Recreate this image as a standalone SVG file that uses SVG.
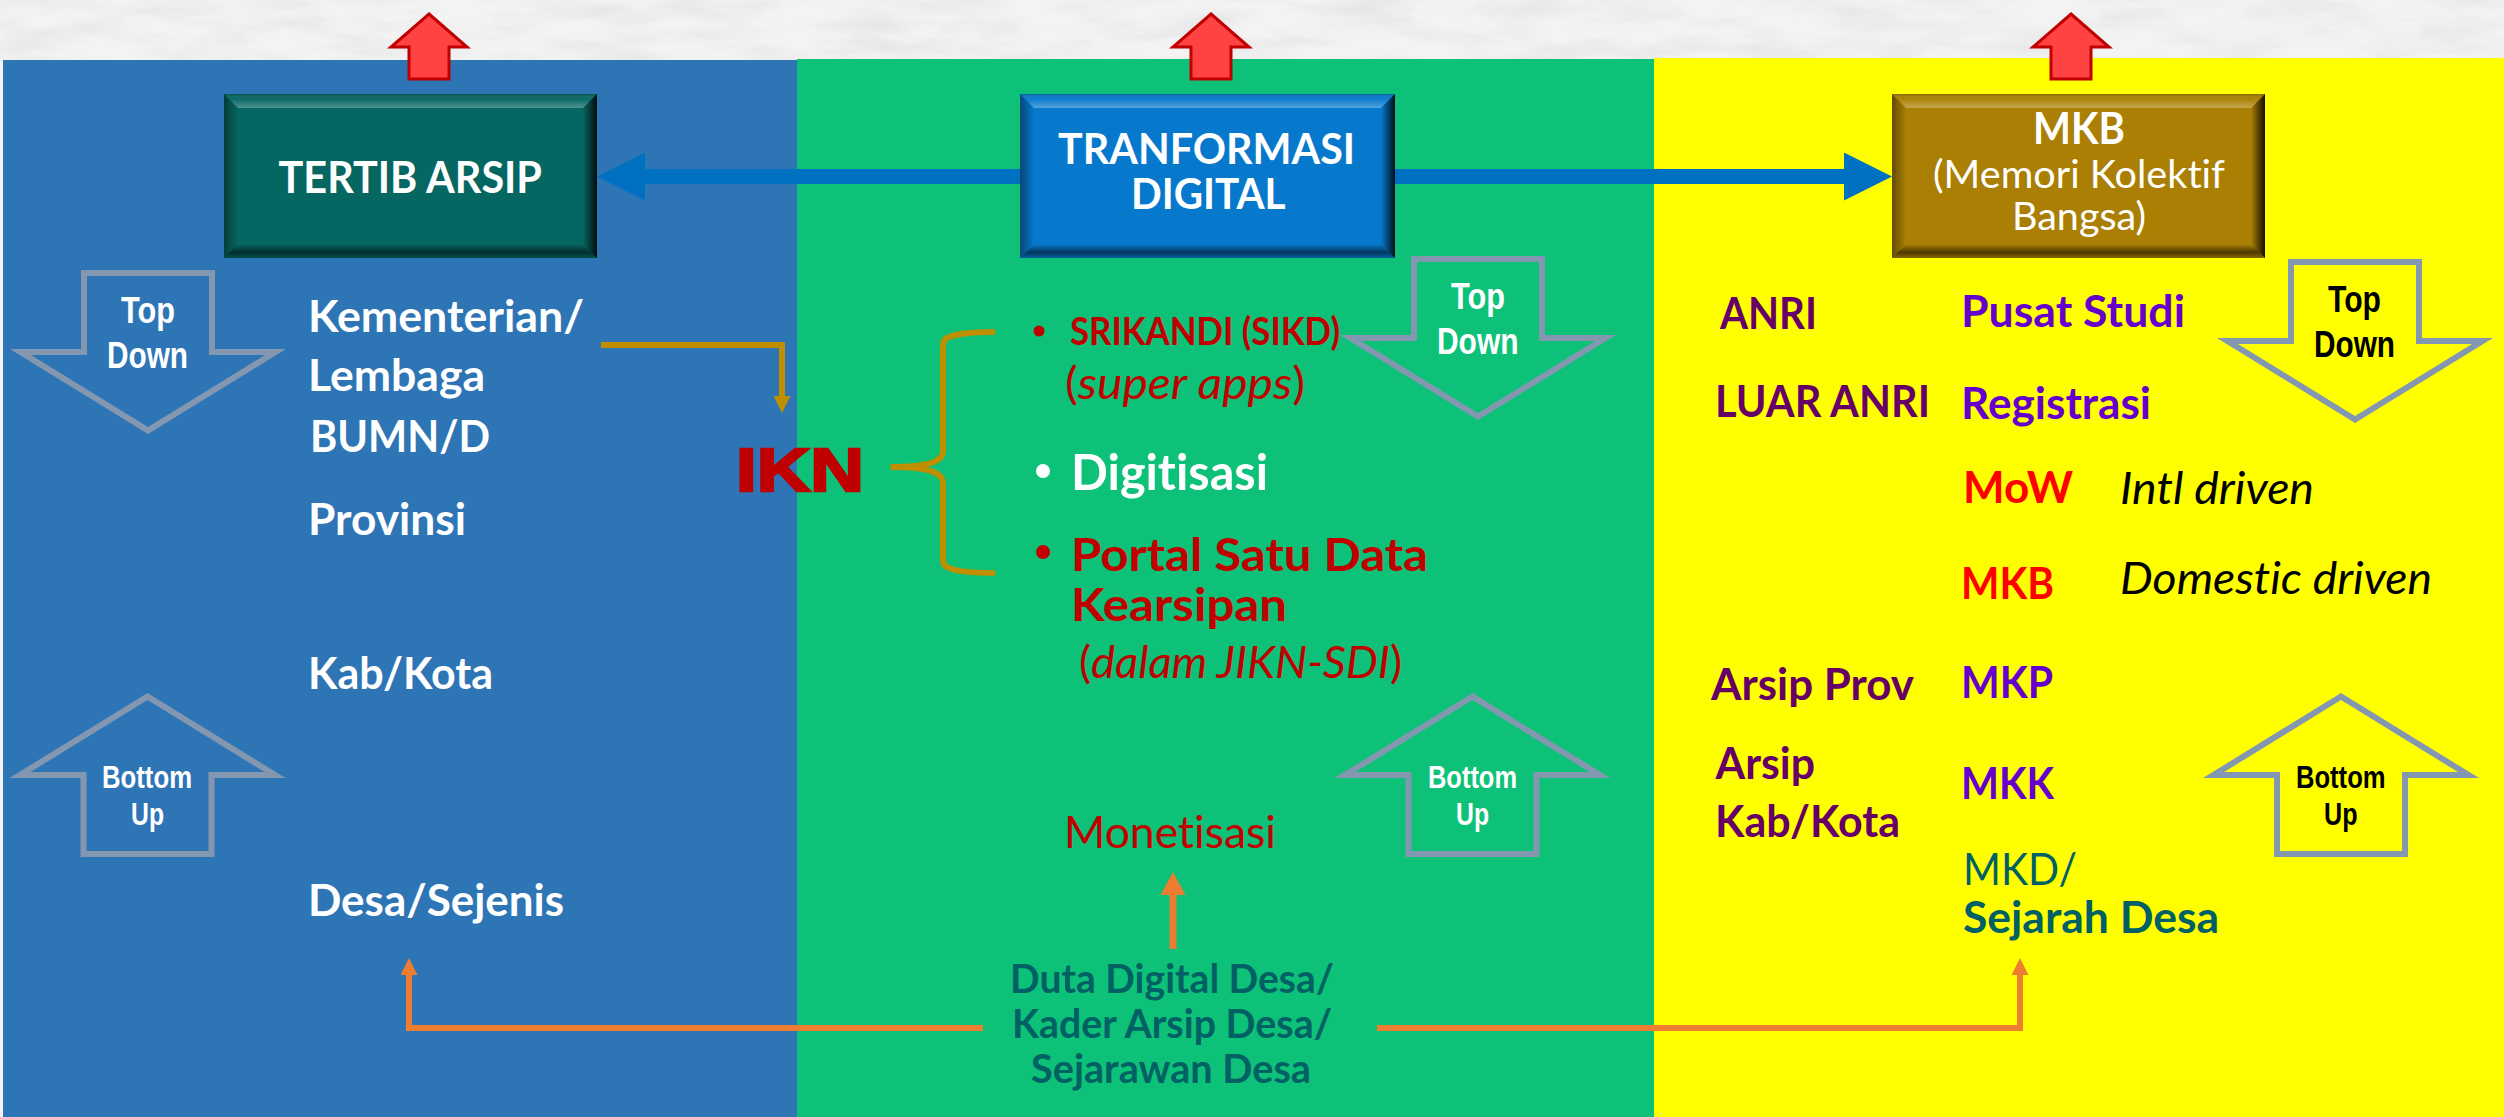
<svg xmlns="http://www.w3.org/2000/svg" xmlns:xlink="http://www.w3.org/1999/xlink" width="2504" height="1117" viewBox="0 0 2504 1117">
<style>
text{font-family:"Lato","Open Sans","Liberation Sans",sans-serif;font-size:44px;font-weight:400;font-variant-ligatures:none}
.b{font-weight:700}
.i{font-style:italic}
.w{fill:#fff}
.r{fill:#c00000}
.p{fill:#660066}
.v{fill:#6600cc}
.t{fill:#006064}
.k{fill:#000}
.ar{font-family:"Liberation Sans",Arial,sans-serif;font-weight:700;font-size:36px}
.ar2{font-family:"Liberation Sans",Arial,sans-serif;font-weight:700;font-size:32px}
.flow{fill:none;stroke:#8497b0;stroke-width:6;stroke-miterlimit:10}
.red{fill:#ff4343;stroke:#c00000;stroke-width:3}
.gold{fill:none;stroke:#bf8f00;stroke-width:6}
.orange{fill:none;stroke:#ed7d31;stroke-width:6}
</style>
<defs>
<filter id="paper" x="0" y="0" width="100%" height="100%" color-interpolation-filters="sRGB">
<feTurbulence type="fractalNoise" baseFrequency="0.012 0.05" numOctaves="4" seed="7"/>
<feColorMatrix type="matrix" values="0 0 0 0 0.9 0 0 0 0 0.9 0 0 0 0 0.9 2 0 0 0 -0.8"/>
</filter>
<linearGradient id="gT" x1="0" y1="0" x2="0" y2="1"><stop offset="0" stop-color="#000" stop-opacity=".22"/><stop offset=".35" stop-color="#fff" stop-opacity=".02"/><stop offset="1" stop-color="#fff" stop-opacity=".3"/></linearGradient>
<linearGradient id="gL" x1="0" y1="0" x2="1" y2="0"><stop offset="0" stop-color="#000" stop-opacity=".42"/><stop offset="1" stop-color="#000" stop-opacity="0"/></linearGradient>
<linearGradient id="gR" x1="0" y1="0" x2="1" y2="0"><stop offset="0" stop-color="#000" stop-opacity="0"/><stop offset="1" stop-color="#000" stop-opacity=".88"/></linearGradient>
<linearGradient id="gB" x1="0" y1="0" x2="0" y2="1"><stop offset="0" stop-color="#000" stop-opacity="0"/><stop offset=".6" stop-color="#000" stop-opacity=".55"/><stop offset="1" stop-color="#000" stop-opacity=".2"/></linearGradient>
<g id="bevel">
<polygon points="0,0 373,0 359,14 14,14" fill="url(#gT)"/>
<polygon points="0,0 14,14 14,150 0,164" fill="url(#gL)"/>
<polygon points="373,0 373,164 359,150 359,14" fill="url(#gR)"/>
<polygon points="0,164 14,150 359,150 373,164" fill="url(#gB)"/>
</g>
<polygon id="flowDown" points="-64,3 64,3 64,82 127.5,82 0,160.5 -127.5,82 -64,82"/>
<polygon id="redUp" points="0,0 38,33 20,33 20,65 -20,65 -20,33 -38,33"/>
<marker id="mGold" markerUnits="userSpaceOnUse" markerWidth="18" markerHeight="17" refX="0" refY="8.5" orient="auto"><polygon points="0,0 17,8.5 0,17" fill="#bf8f00"/></marker>
<marker id="mOrange" markerUnits="userSpaceOnUse" markerWidth="18" markerHeight="17" refX="0" refY="8.5" orient="auto"><polygon points="0,0 17,8.5 0,17" fill="#ed7d31"/></marker>
<marker id="mOrangeBig" markerUnits="userSpaceOnUse" markerWidth="24" markerHeight="25" refX="0" refY="12.5" orient="auto"><polygon points="0,0 23,12.5 0,25" fill="#ed7d31"/></marker>
<marker id="mBlue" markerUnits="userSpaceOnUse" markerWidth="49" markerHeight="48" refX="0" refY="24" orient="auto"><polygon points="0,0 48,24 0,48" fill="#0070c0"/></marker>
</defs>

<g id="background">
<rect width="2504" height="1117" fill="#f3f3f3"/>
<rect width="2504" height="60" filter="url(#paper)"/>
<rect id="panel-blue" x="3" y="60" width="794" height="1057" fill="#2e75b6"/>
<rect id="panel-green" x="797" y="59" width="857" height="1058" fill="#0dc278"/>
<rect id="panel-yellow" x="1654" y="58" width="850" height="1059" fill="#ffff00"/>
</g>

<g id="connectors">
<path d="M1021 176.5H645" fill="none" stroke="#0070c0" stroke-width="15" marker-end="url(#mBlue)"/>
<path d="M1394 176.5H1844" fill="none" stroke="#0070c0" stroke-width="15" marker-end="url(#mBlue)"/>
<path class="gold" d="M601 345H782V396" marker-end="url(#mGold)"/>
<path class="gold" d="M995 332C975 332 956 333 947 338Q943 340 943 346V451C943 459 935 464 915 466C905 467 898 467 890.5 467C898 467 905 467 915 468C935 470 943 475 943 483V560Q943 565 947 567C956 572 975 573 995 573"/>
<path class="orange" d="M983 1028H409V975" marker-end="url(#mOrange)"/>
<path class="orange" d="M1377 1028H2020V975" marker-end="url(#mOrange)"/>
<path class="orange" style="stroke-width:7" d="M1173 949V895" marker-end="url(#mOrangeBig)"/>
</g>

<g id="up-arrows">
<use href="#redUp" class="red" transform="translate(429 14)"/>
<use href="#redUp" class="red" transform="translate(1211 14)"/>
<use href="#redUp" class="red" transform="translate(2071 14)"/>
</g>

<g id="node-tertib">
<rect x="224" y="94" width="373" height="164" fill="#066662"/>
<use href="#bevel" x="224" y="94"/>
<text class="b w" x="278.5" y="193" textLength="263.5" lengthAdjust="spacingAndGlyphs">TERTIB ARSIP</text>
</g>
<g id="node-transformasi">
<rect x="1020" y="94" width="375" height="164" fill="#0779cc"/>
<use href="#bevel" transform="translate(1020 94) scale(1.0054 1)"/>
<text class="b w" style="font-size:42px" x="1058" y="164" textLength="297" lengthAdjust="spacingAndGlyphs">TRANFORMASI</text>
<text class="b w" style="font-size:42px" x="1131" y="209" textLength="154.5" lengthAdjust="spacingAndGlyphs">DIGITAL</text>
</g>
<g id="node-mkb">
<rect x="1892" y="94" width="373" height="164" fill="#aa7f03"/>
<use href="#bevel" x="1892" y="94"/>
<text class="b w" x="2033" y="144" textLength="92" lengthAdjust="spacingAndGlyphs">MKB</text>
<text class="w" style="font-size:39px" x="1933" y="188" textLength="292" lengthAdjust="spacingAndGlyphs">(Memori Kolektif</text>
<text class="w" style="font-size:39px" x="2012" y="230" textLength="134" lengthAdjust="spacingAndGlyphs">Bangsa)</text>
</g>

<g id="flow-top-down-1">
<use href="#flowDown" class="flow" transform="translate(148 270)"/>
<text class="ar w" x="121" y="323" textLength="54" lengthAdjust="spacingAndGlyphs">Top</text>
<text class="ar w" x="107" y="368" textLength="81" lengthAdjust="spacingAndGlyphs">Down</text>
</g>
<g id="flow-bottom-up-1">
<use href="#flowDown" class="flow" transform="translate(147.5 857) scale(1 -1)"/>
<text class="ar2 w" x="102" y="788" textLength="90" lengthAdjust="spacingAndGlyphs">Bottom</text>
<text class="ar2 w" x="131" y="825" textLength="33" lengthAdjust="spacingAndGlyphs">Up</text>
</g>
<g id="flow-top-down-2">
<use href="#flowDown" class="flow" transform="translate(1478 256)"/>
<text class="ar w" x="1451" y="309" textLength="54" lengthAdjust="spacingAndGlyphs">Top</text>
<text class="ar w" x="1437" y="354" textLength="81.5" lengthAdjust="spacingAndGlyphs">Down</text>
</g>
<g id="flow-bottom-up-2">
<use href="#flowDown" class="flow" transform="translate(1472.5 857) scale(1 -1)"/>
<text class="ar2 w" x="1428" y="788" textLength="89" lengthAdjust="spacingAndGlyphs">Bottom</text>
<text class="ar2 w" x="1456" y="825" textLength="33" lengthAdjust="spacingAndGlyphs">Up</text>
</g>
<g id="flow-top-down-3">
<use href="#flowDown" class="flow" transform="translate(2355 259)"/>
<text class="ar k" x="2328" y="312" textLength="53" lengthAdjust="spacingAndGlyphs">Top</text>
<text class="ar k" x="2314" y="357" textLength="81" lengthAdjust="spacingAndGlyphs">Down</text>
</g>
<g id="flow-bottom-up-3">
<use href="#flowDown" class="flow" transform="translate(2341 857) scale(1 -1)"/>
<text class="ar2 k" x="2296" y="788" textLength="89.5" lengthAdjust="spacingAndGlyphs">Bottom</text>
<text class="ar2 k" x="2324" y="825" textLength="33.5" lengthAdjust="spacingAndGlyphs">Up</text>
</g>

<g id="labels-tertib">
<text class="b w" x="308" y="332" textLength="276" lengthAdjust="spacingAndGlyphs">Kementerian/</text>
<text class="b w" x="308" y="391" textLength="177" lengthAdjust="spacingAndGlyphs">Lembaga</text>
<text class="b w" x="310" y="452" textLength="180" lengthAdjust="spacingAndGlyphs">BUMN/D</text>
<text class="b w" x="308" y="535" textLength="158" lengthAdjust="spacingAndGlyphs">Provinsi</text>
<text class="b w" x="308" y="689" textLength="185" lengthAdjust="spacingAndGlyphs">Kab/Kota</text>
<text class="b w" x="308" y="916" textLength="256" lengthAdjust="spacingAndGlyphs">Desa/Sejenis</text>
</g>

<g id="node-ikn">
<text class="r" style="font-family:'Liberation Sans',Arial,sans-serif;font-weight:700;font-size:62px;stroke:#c00000;stroke-width:2.5" x="736" y="491" textLength="128" lengthAdjust="spacingAndGlyphs">IKN</text>
</g>

<g id="labels-transformasi">
<circle class="r" cx="1039" cy="331" r="5.5"/>
<text class="b r" style="font-size:38px" x="1070" y="345" textLength="270" lengthAdjust="spacingAndGlyphs">SRIKANDI (SIKD)</text>
<text class="r" x="1065" y="399" textLength="240" lengthAdjust="spacingAndGlyphs">(<tspan class="i">super apps</tspan>)</text>
<circle class="w" cx="1043" cy="471" r="7"/>
<text class="b w" style="font-size:50px" x="1071" y="490" textLength="197" lengthAdjust="spacingAndGlyphs">Digitisasi</text>
<circle class="r" cx="1043" cy="552" r="7"/>
<text class="b r" style="font-size:46px" x="1071" y="571" textLength="357" lengthAdjust="spacingAndGlyphs">Portal Satu Data</text>
<text class="b r" style="font-size:46px" x="1071" y="621" textLength="216" lengthAdjust="spacingAndGlyphs">Kearsipan</text>
<text class="r" x="1079" y="678" textLength="323" lengthAdjust="spacingAndGlyphs">(<tspan class="i">dalam JIKN-SDI</tspan>)</text>
<text class="r" x="1064" y="848" textLength="212" lengthAdjust="spacingAndGlyphs">Monetisasi</text>
<text class="b t" style="font-size:40px" x="1010" y="993" textLength="324" lengthAdjust="spacingAndGlyphs">Duta Digital Desa/</text>
<text class="b t" style="font-size:40px" x="1012" y="1038" textLength="320" lengthAdjust="spacingAndGlyphs">Kader Arsip Desa/</text>
<text class="b t" style="font-size:40px" x="1031" y="1083" textLength="280" lengthAdjust="spacingAndGlyphs">Sejarawan Desa</text>
</g>

<g id="labels-mkb">
<text class="b p" x="1720" y="329" textLength="97" lengthAdjust="spacingAndGlyphs">ANRI</text>
<text class="b p" x="1715" y="417" textLength="215" lengthAdjust="spacingAndGlyphs">LUAR ANRI</text>
<text class="b p" x="1711" y="700" textLength="203" lengthAdjust="spacingAndGlyphs">Arsip Prov</text>
<text class="b p" x="1715.5" y="779" textLength="99.5" lengthAdjust="spacingAndGlyphs">Arsip</text>
<text class="b p" x="1715" y="837" textLength="185" lengthAdjust="spacingAndGlyphs">Kab/Kota</text>
<text class="b v" x="1961" y="327" textLength="224" lengthAdjust="spacingAndGlyphs">Pusat Studi</text>
<text class="b v" x="1961" y="419" textLength="190" lengthAdjust="spacingAndGlyphs">Registrasi</text>
<text class="b" style="fill:#ff0000" x="1963" y="503" textLength="110" lengthAdjust="spacingAndGlyphs">MoW</text>
<text class="b" style="fill:#ff0000" x="1961" y="599" textLength="93" lengthAdjust="spacingAndGlyphs">MKB</text>
<text class="i k" x="2120" y="504" textLength="194" lengthAdjust="spacingAndGlyphs">Intl driven</text>
<text class="i k" x="2120" y="594" textLength="312" lengthAdjust="spacingAndGlyphs">Domestic driven</text>
<text class="b v" x="1961" y="698" textLength="92" lengthAdjust="spacingAndGlyphs">MKP</text>
<text class="b v" x="1961" y="799" textLength="93" lengthAdjust="spacingAndGlyphs">MKK</text>
<text class="t" x="1963" y="885" textLength="114" lengthAdjust="spacingAndGlyphs">MKD/</text>
<text class="b t" x="1963" y="933" textLength="256" lengthAdjust="spacingAndGlyphs">Sejarah Desa</text>
</g>
</svg>
